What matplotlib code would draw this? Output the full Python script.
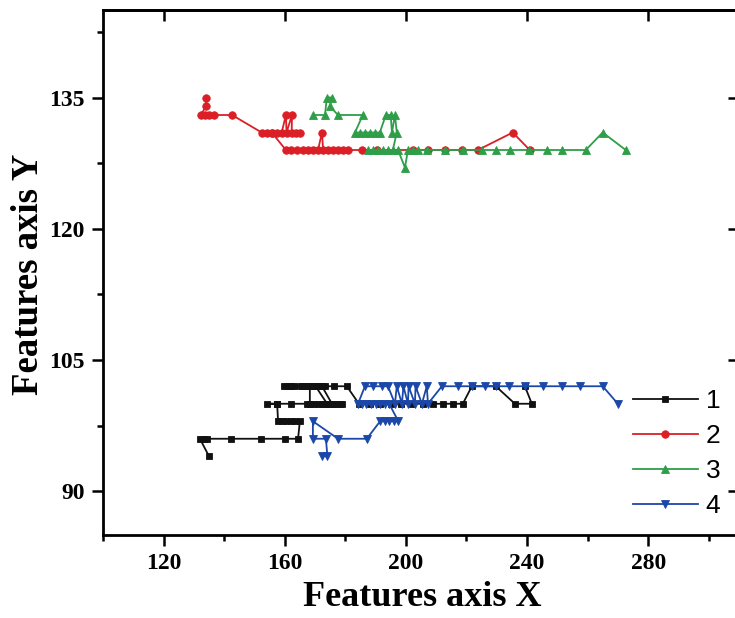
import matplotlib
matplotlib.use("Agg")
import matplotlib.pyplot as plt
from matplotlib.ticker import MultipleLocator, NullLocator, FixedLocator

# ---------------- data ----------------
s1_x = [135, 132, 133.2, 134.3, 142.2, 152.1, 160, 164.4, 165, 163.5, 162, 160.5, 159, 157.8,
        157.5, 154.1, 157.5, 162, 167.3, 168.5, 169.8, 171, 172.2, 173.4, 174.6, 175.8, 177, 178.2, 179,
        175.6, 172.3, 170.2, 174, 168.3, 168.3, 165.7, 163.4, 162.1, 160.9, 159.7, 162.1, 165.7,
        166.8, 168, 169.1, 170.2, 171.3, 172.4, 173.3, 176.2, 180.5, 184.5, 188, 191.5, 195, 198.5,
        202, 205.5, 209, 212.2, 215.5, 218.8, 221.8, 229.7, 236, 241.6, 239.3]
s1_y = [94, 96, 96, 96, 96, 96, 96, 96, 98, 98, 98, 98, 98, 98,
        100, 100, 100, 100, 100, 100, 100, 100, 100, 100, 100, 100, 100, 100, 100,
        100, 102, 102, 100, 100, 102, 102, 102, 102, 102, 102, 102, 102,
        102, 102, 102, 102, 102, 102, 102, 102, 102, 100, 100, 100, 100, 100,
        100, 100, 100, 100, 100, 100, 102, 102, 100, 100, 102]

s2_x = [134, 134, 132.3, 133.7, 135, 136.6, 142.6, 152.4, 154.1, 155.7, 157.3, 159, 160.4, 160.6,
        162.4, 162.3, 163.7, 165, 155.7, 160.4, 162, 164, 166, 167.7, 169.3, 171, 172.3, 172.7,
        174.3, 176, 177.6, 179.2, 180.9, 185.5, 190.4, 202.3, 207.3, 212.9, 218.5, 223.8, 235.3, 240.9]
s2_y = [135, 134, 133, 133, 133, 133, 133, 131, 131, 131, 131, 131, 133, 131,
        133, 131, 131, 131, 131, 129, 129, 129, 129, 129, 129, 129, 131, 129,
        129, 129, 129, 129, 129, 129, 129, 129, 129, 129, 129, 129, 131, 129]

s3_x = [169.3, 173.3, 173.9, 175.6, 174.9, 177.6, 185.8, 183.2, 184.8, 186.5, 188.1, 189.8, 191.4,
        193.4, 195.0, 195.4, 196.4, 197.0, 195.7, 194.1, 192.4, 190.8, 189.1, 187.5, 197.4, 199.7,
        200.7, 202.3, 204.0, 206.9, 212.9, 218.8, 225.0, 229.7, 234.3, 240.6, 246.5, 251.5, 259.4,
        265.0, 272.6]
s3_y = [133, 133, 135, 135, 134, 133, 133, 131, 131, 131, 131, 131, 131,
        133, 133, 131, 133, 131, 129, 129, 129, 129, 129, 129, 129, 127,
        129, 129, 129, 129, 129, 129, 129, 129, 129, 129, 129, 129, 129,
        131, 129]

s4_x = [172.4, 174.1, 173.6, 169.3, 169.3, 177.6, 187.1, 191.5, 193, 194.5, 196, 197.5, 194.5,
        193, 191.5, 190, 188.5, 187, 185.5, 184.2, 186.5, 189.1, 192.1, 194.1, 196.4, 197, 198.7,
        199.2, 200.7, 200.9, 203, 203.2, 205.3, 206.9, 207.3, 211.9, 217.2, 221.8, 226.1, 229.7,
        234, 239.3, 245.2, 251.5, 257.4, 265, 270]
s4_y = [94, 94, 96, 96, 98, 96, 96, 98, 98, 98, 98, 98, 100,
        100, 100, 100, 100, 100, 100, 100, 102, 102, 102, 102, 100, 102, 100,
        102, 100, 102, 100, 102, 100, 102, 100, 102, 102, 102, 102, 102,
        102, 102, 102, 102, 102, 102, 100]

labels = ["1", "2", "3", "4"]
x_ticks = [120, 160, 200, 240, 280]
y_ticks = [90, 105, 120, 135]

# ---------------- figure ----------------
fig = plt.figure(figsize=(7.35, 6.18), dpi=100)
ax = fig.add_axes([103 / 735, 83 / 618, 636 / 735, 525 / 618])

serif = "Liberation Serif"
sans = "Liberation Sans"

styles = [
    dict(color="#111111", marker="s", ms=4.8),
    dict(color="#db1f26", marker="o", ms=5.4),
    dict(color="#2e9e48", marker="^", ms=6.2),
    dict(color="#1b48a8", marker="v", ms=6.2),
]
series = [(s1_x, s1_y), (s2_x, s2_y), (s3_x, s3_y), (s4_x, s4_y)]
handles = []
for (xs, ys), st, lab in zip(series, styles, labels):
    h, = ax.plot(xs, ys, color=st["color"], marker=st["marker"], markersize=st["ms"],
                 markeredgewidth=0.6, lw=1.3, label=lab)
    handles.append(h)

ax.set_xlim(100, 310)
ax.set_ylim(85, 145)
ax.xaxis.set_major_locator(FixedLocator(x_ticks))
ax.xaxis.set_minor_locator(MultipleLocator(20))
ax.yaxis.set_major_locator(FixedLocator(y_ticks))
ax.yaxis.set_minor_locator(MultipleLocator(7.5))

for sp in ax.spines.values():
    sp.set_linewidth(2.0)

ax.tick_params(which="major", direction="out", length=8, width=1.8, pad=5,
               top=False, right=False, labelsize=17)
ax.tick_params(which="minor", direction="out", length=4, width=1.8, top=False, right=False)
for lab in ax.get_xticklabels() + ax.get_yticklabels():
    lab.set_fontfamily(serif)
    lab.set_fontweight("bold")

# mirrored inward ticks on top / right
secx = ax.secondary_xaxis("top")
secx.xaxis.set_major_locator(FixedLocator(x_ticks))
secx.xaxis.set_minor_locator(NullLocator())
secx.tick_params(direction="in", length=8, width=1.8, labeltop=False)
secx.spines["top"].set_linewidth(2.0)
secy = ax.secondary_yaxis("right")
secy.yaxis.set_major_locator(FixedLocator(y_ticks))
secy.yaxis.set_minor_locator(NullLocator())
secy.tick_params(direction="in", length=8, width=1.8, labelright=False)
secy.spines["right"].set_linewidth(2.0)

fig.text(422 / 735, 1 - 598 / 618, "Features axis X", ha="center", va="center",
         fontsize=26, fontweight="bold", family=serif)
fig.text(29 / 735, 1 - 274 / 618, "Features axis Y", ha="center", va="center",
         rotation=90, fontsize=26.5, fontweight="bold", family=serif)

leg = fig.legend(handles=handles, labels=labels, loc="upper left",
                 bbox_to_anchor=(633 / 735, 1 - 389 / 618), frameon=False,
                 prop={"family": sans, "size": 19}, handlelength=2.45,
                 handletextpad=0.3, labelspacing=0.42, borderpad=0, borderaxespad=0)

fig.savefig("out.png", dpi=100)
